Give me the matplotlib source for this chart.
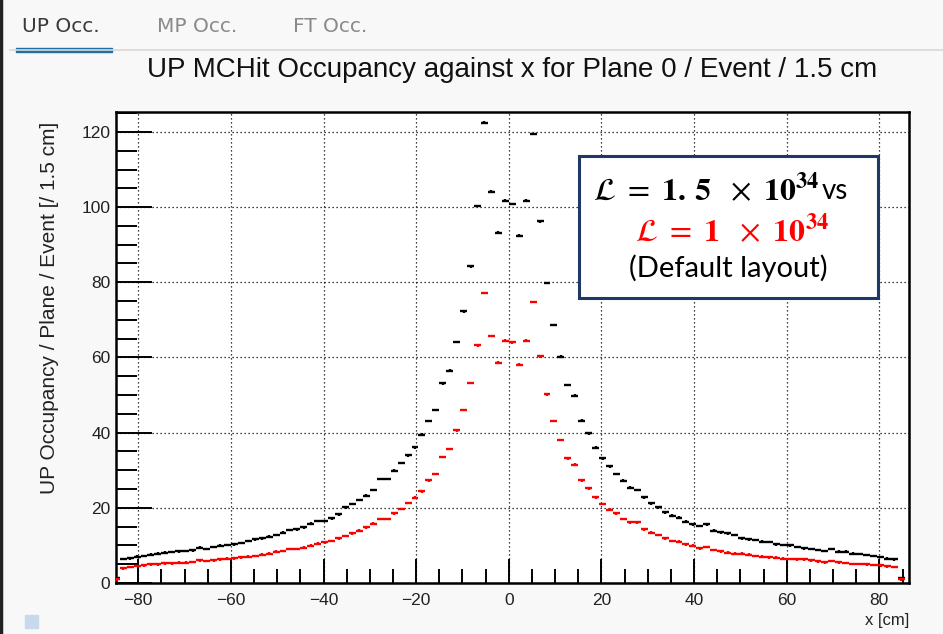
import numpy as np
import matplotlib
matplotlib.use("Agg")
import matplotlib.pyplot as plt
from matplotlib.patches import Rectangle

# ---- data (bin centres, 1.5 cm bins) ----
bin_width = 1.5
x_centers = np.arange(-84.75, 85.0, 1.5)

occ_15 = [1.3, 6.4, 6.6, 7.0, 7.2, 7.5, 7.8, 8.1, 8.2, 8.4,
          8.5, 8.7, 9.4, 9.0, 9.6, 9.9, 10.1, 10.3, 10.6, 11.2,
          11.6, 11.9, 12.3, 12.8, 13.4, 14.1, 14.3, 14.8, 15.8, 16.5,
          16.5, 17.2, 18.3, 20.1, 21.0, 22.1, 23.2, 24.7, 27.7, 27.7,
          29.9, 31.9, 34.0, 36.1, 39.5, 43.1, 46.0, 53.1, 56.5, 64.1,
          72.3, 84.2, 100.3, 122.5, 104.1, 93.2, 101.7, 100.8, 92.4, 101.7,
          119.4, 96.2, 79.8, 68.6, 60.2, 52.7, 49.8, 43.2, 39.8, 36.0,
          33.2, 31.0, 29.0, 27.2, 25.4, 24.7, 22.8, 21.2, 20.1, 18.8,
          17.9, 17.4, 16.3, 15.6, 15.2, 15.6, 13.9, 13.5, 13.2, 12.8,
          11.9, 11.6, 11.4, 11.0, 10.9, 10.3, 10.1, 10.0, 9.6, 9.2,
          9.0, 8.8, 8.5, 9.0, 8.3, 8.3, 7.8, 7.7, 7.4, 7.2,
          6.9, 6.5, 6.3, 1.2]

occ_10 = [1.0, 3.9, 4.3, 4.5, 4.7, 5.0, 5.0, 5.2, 5.2, 5.4,
          5.4, 5.6, 6.0, 5.9, 6.0, 6.3, 6.5, 6.6, 6.8, 7.0,
          7.2, 7.5, 7.8, 8.3, 8.5, 9.0, 9.0, 9.4, 9.9, 10.5,
          10.8, 11.2, 11.9, 12.5, 13.2, 13.9, 14.8, 15.8, 17.0, 17.0,
          18.5, 19.7, 21.3, 22.7, 24.4, 27.3, 29.0, 33.5, 35.6, 40.6,
          46.0, 53.2, 63.2, 77.1, 65.7, 58.6, 64.5, 64.0, 58.1, 64.5,
          74.8, 60.3, 50.2, 43.1, 38.0, 33.2, 31.5, 27.3, 25.2, 22.8,
          21.0, 19.5, 18.5, 17.0, 16.1, 16.1, 14.3, 13.4, 12.8, 11.9,
          11.2, 11.0, 10.3, 9.9, 9.2, 9.6, 8.8, 8.4, 8.1, 7.8,
          7.8, 7.5, 7.2, 7.0, 6.8, 6.7, 6.5, 6.4, 6.3, 6.3,
          6.0, 5.8, 5.5, 5.9, 5.5, 5.3, 5.1, 5.1, 5.0, 4.8,
          4.7, 4.4, 4.3, 1.0]

x_ticks = [-80, -60, -40, -20, 0, 20, 40, 60, 80]
y_ticks = [0, 20, 40, 60, 80, 100, 120]
tab_labels = ["UP Occ.", "MP Occ.", "FT Occ."]

W, H = 943, 634
fig = plt.figure(figsize=(W / 100, H / 100), dpi=100)
fig.patch.set_facecolor("#f8f8f8")

def fx(px):
    return px / W

def fy(py):
    return 1 - py / H

# tab bar
tab_x = [22, 157, 293]
for i, (lab, tx) in enumerate(zip(tab_labels, tab_x)):
    fig.text(fx(tx), fy(26), lab, fontsize=14.5, family="DejaVu Sans",
             color="#3a3a3a" if i == 0 else "#8a8a8a", va="center", ha="left")
fig.add_artist(plt.Line2D([fx(10), fx(943)], [fy(50), fy(50)], color="#d8d8d8", lw=1.2))
fig.add_artist(Rectangle((fx(16), fy(52)), fx(96), 4 / H, color="#1f6fa3", transform=fig.transFigure))
fig.add_artist(plt.Line2D([fx(1), fx(1)], [0, 1], color="#222222", lw=2.5))
fig.add_artist(Rectangle((fx(25), fy(628)), fx(13), 13 / H, color="#c8d9ec", transform=fig.transFigure))

# title
fig.text(fx(512), fy(70), "UP MCHit Occupancy against x for Plane 0 / Event / 1.5 cm",
         fontsize=20, family="Liberation Sans", ha="center", va="center", color="#111111")

ax = fig.add_axes([fx(116), fy(583), fx(909 - 116), (583 - 112) / H])
ax.set_facecolor("white")
ax.set_xlim(-84.8, 86.4)
ax.set_ylim(0, 125.3)

ax.errorbar(x_centers, occ_15, xerr=bin_width / 2, yerr=0.35, fmt="none",
            ecolor="black", elinewidth=1.7, capsize=0, zorder=3)
ax.errorbar(x_centers, occ_10, xerr=bin_width / 2, yerr=0.35, fmt="none",
            ecolor="#ff0000", elinewidth=1.7, capsize=0, zorder=4)

ax.set_xticks(x_ticks)
ax.set_yticks(y_ticks)
ax.set_xticks(np.arange(-80, 86, 5), minor=True)
ax.set_yticks(np.arange(0, 126, 5), minor=True)
ax.grid(True, which="major", color="black", linestyle=(0, (1, 2.2)), linewidth=0.9)
ax.tick_params(axis="both", which="both", direction="in", top=False, right=False,
               width=1.4, colors="black", labelsize=12.5)
ax.tick_params(axis="x", which="major", length=17, pad=7)
ax.tick_params(axis="x", which="minor", length=10)
ax.tick_params(axis="y", which="major", length=26, pad=4)
ax.tick_params(axis="y", which="minor", length=15)
for lab in ax.get_xticklabels() + ax.get_yticklabels():
    lab.set_family("Liberation Sans")
    lab.set_color("#222222")
for s in ax.spines.values():
    s.set_linewidth(1.8)
    s.set_color("black")

fig.text(fx(50), fy(308), "UP Occupancy / Plane / Event [/ 1.5 cm]", rotation=90,
         fontsize=15, family="Liberation Sans", ha="center", va="center", color="#222222")
fig.text(fx(909), fy(620), "x [cm]", fontsize=12, family="Liberation Sans",
         ha="right", va="center", color="#222222")

# annotation box
fig.add_artist(Rectangle((fx(579), fy(298)), fx(878 - 579), (298 - 156) / H,
                         facecolor="white", edgecolor="#1f3864", lw=2.2,
                         transform=fig.transFigure, zorder=10))
fig.text(fx(819), fy(190), r"$\mathcal{L}\ =\ \mathbf{1.\,5}\ \ \times\ \mathbf{10^{34}}$",
         fontsize=23, math_fontfamily="stix", ha="right", va="center",
         color="black", zorder=11)
fig.text(fx(822), fy(191), "vs", fontsize=20, family="Lato", ha="left", va="center",
         color="black", zorder=11)
fig.text(fx(732), fy(231), r"$\mathcal{L}\ =\ \mathbf{1}\ \ \times\ \mathbf{10^{34}}$",
         fontsize=23, math_fontfamily="stix", ha="center", va="center",
         color="#ff0000", zorder=11)
fig.text(fx(728), fy(268), "(Default layout)", fontsize=21, family="Lato",
         ha="center", va="center", color="black", zorder=11)

fig.savefig("out.png", dpi=100, facecolor=fig.get_facecolor())
